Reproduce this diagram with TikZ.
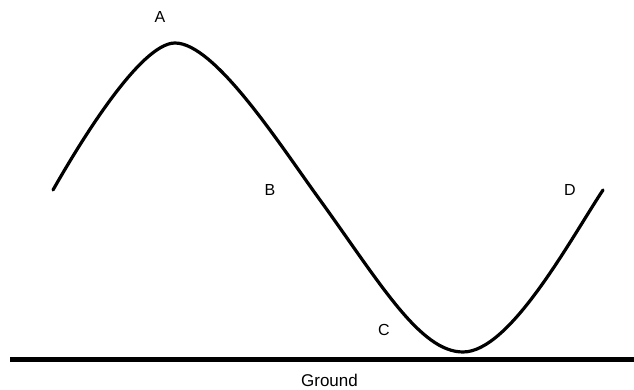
\documentclass[tikz,border=0pt]{standalone}
\usepackage{fontspec}
\setmainfont{Liberation Sans}
\usepackage{tikz}
\usetikzlibrary{positioning}

\begin{document}
\begin{tikzpicture}[
  x=1pt, y=1pt,
  lbl/.style={font=\fontsize{16}{19}\selectfont, inner sep=0pt},
  glbl/.style={font=\fontsize{17}{20}\selectfont, inner sep=0pt, anchor=base},
  wave/.style={line width=3.2pt, line cap=round},
  gline/.style={line width=5pt}
]
\useasboundingbox (0,0) rectangle (634,390);
% wave points
\coordinate (start) at (53,200);
\coordinate (peak) at (175,347);
\coordinate (mid) at (320,190);
\coordinate (trough) at (463,38);
\coordinate (stop) at (603,200);
\draw[wave] (start) .. controls (78,244) and (140,347) .. (peak)
  .. controls (215,347) and (280,245) .. (mid)
  .. controls (380,107) and (420,38) .. (trough)
  .. controls (510,38) and (570,150) .. (stop);
% ground
\coordinate (gleft) at (10,30);
\coordinate (gright) at (634,30);
\draw[gline] (gleft) -- (gright);
% labels
\node[lbl] (a) at (160,373) {A};
\node[lbl] (b) at (270,200) {B};
\node[lbl] (c) at (384,60) {C};
\node[lbl] (d) at (570,200) {D};
\node[glbl] (groundlbl) at (329.5,3.5) {Ground};
\end{tikzpicture}
\end{document}
